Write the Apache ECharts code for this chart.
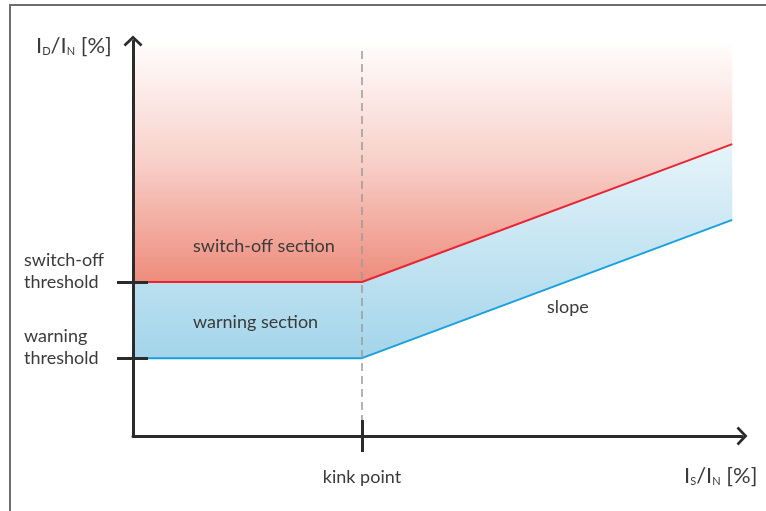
<!DOCTYPE html>
<html><head><meta charset="utf-8">
<script src="https://cdn.jsdelivr.net/npm/echarts@6/dist/echarts.min.js"></script>
<style>html,body{margin:0;padding:0;background:#fff}#c{width:766px;height:511px}</style>
</head><body><div id="c"></div>
<script>
// ---- data (abstract units, axes 0..100) ----
const xPoints = [0, 37.6, 98.4];
const warningLine = [19.7, 19.7, 54.7];
const switchOffLine = [39.0, 39.0, 73.9];
const kinkX = 37.6;
const dashedTop = 98.7;
const yTickValues = [19.7, 39.0];
const yTickLabels = ['warning\nthreshold\n ', 'switch-off\nthreshold\n '];
const xTickValues = [37.6];
const xTickLabels = ['kink point'];

const FONT = 'Lato, "Open Sans", sans-serif';
const TXT = '#3a3a3a';
const AX = '#2b2b2b';
const chevron = 'path://M10 0 L20 9.5 L18 11.5 L10 4 L2 11.5 L0 9.5 Z';

const pairs = (vals) => xPoints.map((x, i) => [x, vals[i]]);
const bandData = xPoints.map((x, i) => [x, warningLine[i], switchOffLine[i]]);

function renderBand(params, api) {
  if (params.dataIndex !== 0) return null;
  const top = xPoints.map((x, i) => api.coord([x, switchOffLine[i]]));
  const bottom = xPoints.map((x, i) => api.coord([x, warningLine[i]])).reverse();
  return {
    type: 'polygon',
    shape: {points: top.concat(bottom)},
    style: {fill: new echarts.graphic.LinearGradient(0, 0, 0, 1, [
      {offset: 0, color: '#e6f4fa'}, {offset: 1, color: '#a3d5ea'}])}
  };
}

const AXZ = 10;
const chart = echarts.init(document.getElementById('c'), null, {renderer: 'canvas'});
chart.setOption({
  animation: false,
  backgroundColor: '#fff',
  grid: {left: 133, right: 24, top: 41, bottom: 75, containLabel: false},
  xAxis: [
    {type: 'value', min: 0, max: 100, position: 'bottom', z: AXZ,
     axisLine: {show: true, lineStyle: {color: AX, width: 3}, symbol: ['none', chevron], symbolSize: [19, 11]},
     axisTick: {show: true, customValues: xTickValues, length: 16, inside: false, lineStyle: {color: AX, width: 3}},
     axisLabel: {show: true, customValues: xTickValues, margin: 32, color: TXT, fontFamily: FONT, fontSize: 18,
       formatter: (v) => xTickLabels[xTickValues.indexOf(v)] || ''},
     splitLine: {show: false}},
    {type: 'value', min: 0, max: 100, position: 'top', offset: -395, z: AXZ,
     axisLine: {show: false, onZero: false},
     axisTick: {show: true, customValues: xTickValues, length: 16, inside: false, lineStyle: {color: AX, width: 3}},
     axisLabel: {show: false}, splitLine: {show: false}}
  ],
  yAxis: [
    {type: 'value', min: 0, max: 100, position: 'left', z: AXZ,
     axisLine: {show: true, lineStyle: {color: AX, width: 3}, symbol: ['none', chevron], symbolSize: [19, 11]},
     axisTick: {show: true, customValues: yTickValues, length: 16, inside: false, lineStyle: {color: AX, width: 3}},
     axisLabel: {show: true, customValues: yTickValues, margin: 109, align: 'left', color: TXT, fontFamily: FONT,
       fontSize: 18, lineHeight: 22,
       formatter: (v) => yTickLabels[yTickValues.indexOf(v)] || ''},
     splitLine: {show: false}},
    {type: 'value', min: 0, max: 100, position: 'right', offset: -609, z: AXZ,
     axisLine: {show: false, onZero: false},
     axisTick: {show: true, customValues: yTickValues, length: 15, inside: false, lineStyle: {color: AX, width: 3}},
     axisLabel: {show: false}, splitLine: {show: false}}
  ],
  series: [
    {type: 'line', name: 'switch-off area', data: pairs(switchOffLine), symbol: 'none', z: 3,
     lineStyle: {width: 0, opacity: 0},
     areaStyle: {origin: 'end', opacity: 1, color: new echarts.graphic.LinearGradient(0, 0, 0, 1, [
       {offset: 0, color: '#fffefe'}, {offset: 0.5, color: '#f8d0c9'}, {offset: 1, color: '#ee8c7c'}])}},
    {type: 'custom', name: 'warning area', data: bandData, renderItem: renderBand, z: 3,
     encode: {x: 0, y: [1, 2]}},
    {type: 'line', name: 'switch-off', data: pairs(switchOffLine), symbol: 'none', z: 5,
     lineStyle: {color: '#e82530', width: 2}},
    {type: 'line', name: 'warning', data: pairs(warningLine), symbol: 'none', z: 5,
     lineStyle: {color: '#1a9fe0', width: 2}},
    {type: 'line', name: 'kink', data: [[kinkX, 0], [kinkX, dashedTop]], symbol: 'none', z: 6,
     lineStyle: {color: '#9a9a9a', width: 1.5, type: [8, 5]}}
  ],
  graphic: [
    {type: 'polyline', shape: {points: [[10, 511], [10, 5], [766, 5]]}, style: {stroke: '#6e6e6e', lineWidth: 2, fill: null}, silent: true},
    {type: 'text', x: 36, y: 46, style: {
      text: '{m|I}{s|D}{m|/I}{s|N}{m| [%]}', verticalAlign: 'middle', fill: TXT,
      rich: {m: {fontFamily: FONT, fontSize: 22, fill: TXT, verticalAlign: 'bottom'},
             s: {fontFamily: FONT, fontSize: 11, fill: TXT, verticalAlign: 'bottom'}}}},
    {type: 'text', x: 684, y: 476, style: {
      text: '{m|I}{s|S}{m|/I}{s|N}{m| [%]}', verticalAlign: 'middle', fill: TXT,
      rich: {m: {fontFamily: FONT, fontSize: 22, fill: TXT, verticalAlign: 'bottom'},
             s: {fontFamily: FONT, fontSize: 11, fill: TXT, verticalAlign: 'bottom'}}}},
    {type: 'text', x: 193, y: 246, z: 10, style: {text: 'switch-off section', font: '18px ' + FONT, fill: TXT, verticalAlign: 'middle'}},
    {type: 'text', x: 193, y: 322, z: 10, style: {text: 'warning section', font: '18px ' + FONT, fill: TXT, verticalAlign: 'middle'}},
    {type: 'text', x: 547, y: 307, z: 10, style: {text: 'slope', font: '18px ' + FONT, fill: TXT, verticalAlign: 'middle'}}
  ]
});
</script></body></html>
